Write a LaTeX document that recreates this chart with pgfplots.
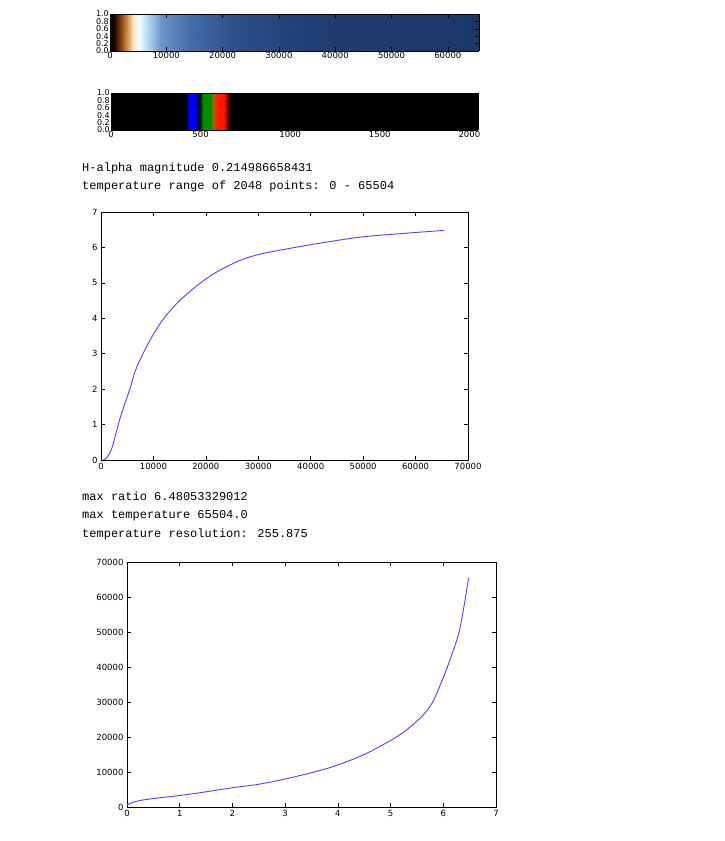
\documentclass[border=0pt]{standalone}
\usepackage{pgfplots}
\pgfplotsset{compat=1.18}
\usepackage{fontspec}
\setmainfont{DejaVu Sans}
\newfontfamily\mono{Liberation Mono}
\pgfplotstableread{
t r
500 0.0
1000 0.05
2000 0.3
3300 1.0
4000 1.35
5500 2.0
6500 2.5
8000 3.0
10000 3.55
12000 4.0
15000 4.5
19000 5.0
22000 5.3
26000 5.6
30000 5.8
37000 6.0
43000 6.15
50000 6.3
58000 6.4
65504 6.48
}\curve
\pgfplotsset{
  every axis/.append style={scale only axis, anchor=south west, tick align=inside,
    major tick length=4pt, tick style={black, line width=0.5pt},
    /pgf/number format/assume math mode=true, /pgf/number format/1000 sep={},
    ticklabel style={font=\fontsize{8.5}{9}\selectfont}, axis line style={line width=0.6pt},
    scaled ticks=false},
  bar/.style={view={0}{90}, ymin=0, ymax=1, ytick={0,0.2,...,1.0},
    yticklabels={0.0,0.2,0.4,0.6,0.8,1.0}, yticklabel style={font=\fontsize{8}{7}\selectfont, inner sep=1pt},
    xticklabel style={yshift=2pt}},
}
\begin{document}
\begin{tikzpicture}[x=1pt,y=1pt]
\path[fill=white] (0pt,0pt) rectangle (725pt,841pt);
\begin{axis}[at={(110pt,790pt)}, width=369pt, height=37pt, bar, xmin=0, xmax=65536,
  xtick={0,10000,...,60000},
  colormap={temp}{rgb255(0)=(0,0,0) rgb255(800)=(30,10,0) rgb255(2000)=(140,70,20)
   rgb255(3000)=(210,140,70) rgb255(4200)=(255,235,200) rgb255(5200)=(240,250,255)
   rgb255(6500)=(190,220,245) rgb255(9000)=(110,150,200) rgb255(14000)=(70,110,170)
   rgb255(22000)=(45,80,140) rgb255(35000)=(33,62,115) rgb255(65536)=(28,55,105)}]
\addplot3[surf, shader=interp, mesh/rows=2, point meta=x] coordinates {(0,0,0) (65536,0,0)

(0,1,0) (65536,1,0)};
\end{axis}
\begin{axis}[at={(111pt,711pt)}, width=367pt, height=37pt, bar, xmin=0, xmax=2048,
  xtick={0,500,1000,1500,2000},
  colormap={spec}{rgb255(0)=(0,0,0) rgb255(420)=(0,0,0) rgb255(435)=(0,0,255)
   rgb255(470)=(0,0,255) rgb255(487)=(0,0,50) rgb255(500)=(0,30,0) rgb255(512)=(0,140,0)
   rgb255(550)=(0,140,0) rgb255(575)=(170,100,0) rgb255(590)=(255,30,0) rgb255(630)=(255,20,0)
   rgb255(660)=(40,0,0) rgb255(672)=(0,0,0) rgb255(2048)=(0,0,0)}]
\addplot3[surf, shader=interp, mesh/rows=2, point meta=x] coordinates {(0,0,0) (2048,0,0)

(0,1,0) (2048,1,0)};
\end{axis}
\node[anchor=base west, inner sep=0, font=\mono\fontsize{12}{14}\selectfont] at (82pt,669pt) {H-alpha magnitude 0.214986658431};
\node[anchor=base west, inner sep=0, font=\mono\fontsize{12}{14}\selectfont] at (82pt,651pt) {temperature range of 2048 points: 0 - 65504};
\begin{axis}[at={(101pt,381pt)}, width=367pt, height=248pt, xmin=0, xmax=70000, ymin=0, ymax=7,
  xtick={0,10000,...,70000}, ytick={0,...,7}]
\addplot[color={rgb,255:red,70;green,70;blue,255}, line width=0.9pt, smooth] table[x=t,y=r] {\curve};
\end{axis}
\node[anchor=base west, inner sep=0, font=\mono\fontsize{12}{14}\selectfont] at (82pt,340pt) {max ratio 6.48053329012};
\node[anchor=base west, inner sep=0, font=\mono\fontsize{12}{14}\selectfont] at (82pt,322pt) {max temperature 65504.0};
\node[anchor=base west, inner sep=0, font=\mono\fontsize{12}{14}\selectfont] at (82pt,303pt) {temperature resolution: 255.875};
\begin{axis}[at={(127pt,34pt)}, width=369pt, height=245pt, xmin=0, xmax=7, ymin=0, ymax=70000,
  xtick={0,...,7}, ytick={0,10000,...,70000}]
\addplot[color={rgb,255:red,70;green,70;blue,255}, line width=0.9pt, smooth] table[x=r,y=t] {\curve};
\end{axis}
\end{tikzpicture}
\end{document}
